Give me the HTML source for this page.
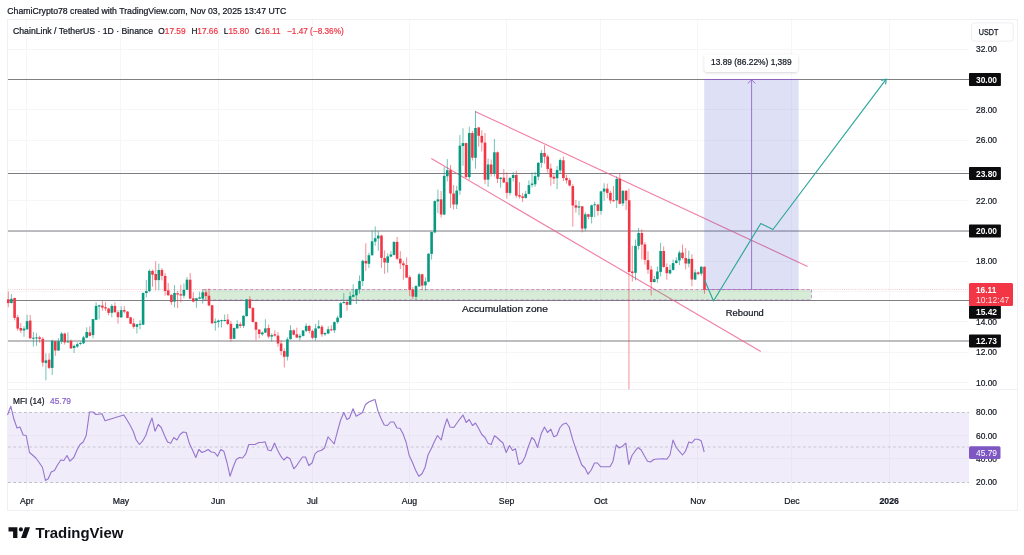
<!DOCTYPE html>
<html lang="en"><head><meta charset="utf-8"><title>ChainLink / TetherUS chart</title>
<style>html,body{margin:0;padding:0;background:#fff}body{width:1024px;height:555px;overflow:hidden}</style></head>
<body>
<svg width="1024" height="555" viewBox="0 0 1024 555" style="display:block">
<rect width="1024" height="555" fill="#fff"/>
<g stroke="#f6f6f9" stroke-width="1" shape-rendering="crispEdges">
<line x1="26.5" y1="20" x2="26.5" y2="490"/>
<line x1="120.5" y1="20" x2="120.5" y2="490"/>
<line x1="218.5" y1="20" x2="218.5" y2="490"/>
<line x1="312.5" y1="20" x2="312.5" y2="490"/>
<line x1="409.5" y1="20" x2="409.5" y2="490"/>
<line x1="506.5" y1="20" x2="506.5" y2="490"/>
<line x1="600.5" y1="20" x2="600.5" y2="490"/>
<line x1="697.5" y1="20" x2="697.5" y2="490"/>
<line x1="791.5" y1="20" x2="791.5" y2="490"/>
<line x1="889.5" y1="20" x2="889.5" y2="490"/>
<line x1="8" y1="49.5" x2="969" y2="49.5"/>
<line x1="8" y1="79.5" x2="969" y2="79.5"/>
<line x1="8" y1="109.5" x2="969" y2="109.5"/>
<line x1="8" y1="140.5" x2="969" y2="140.5"/>
<line x1="8" y1="170.5" x2="969" y2="170.5"/>
<line x1="8" y1="200.5" x2="969" y2="200.5"/>
<line x1="8" y1="231.5" x2="969" y2="231.5"/>
<line x1="8" y1="261.5" x2="969" y2="261.5"/>
<line x1="8" y1="291.5" x2="969" y2="291.5"/>
<line x1="8" y1="321.5" x2="969" y2="321.5"/>
<line x1="8" y1="352.5" x2="969" y2="352.5"/>
<line x1="8" y1="382.5" x2="969" y2="382.5"/>
</g>
<g fill="none" stroke="#f0eff3" stroke-width="1" shape-rendering="crispEdges">
<rect x="7.5" y="19.5" width="1010" height="491"/>
<line x1="8" y1="389.5" x2="1017" y2="389.5"/>
</g>
<line x1="8" y1="289.5" x2="969" y2="289.5" stroke="#f23645" stroke-width="0.7" stroke-dasharray="1 1.2" opacity="0.38"/>
<g stroke="#7e7e83" stroke-width="1.05">
<line x1="8" y1="79.5" x2="969" y2="79.5"/>
<line x1="8" y1="173.5" x2="969" y2="173.5"/>
<line x1="8" y1="231.0" x2="969" y2="231.0"/>
<line x1="8" y1="300.4" x2="969" y2="300.4"/>
<line x1="8" y1="340.9" x2="969" y2="340.9"/>
</g>
<path d="M704.2 79.5H798.6" stroke="#9c5fc4" stroke-width="1" fill="none" opacity="0.85"/>
<path d="M704.2 289.5H798.6" stroke="#9c5fc4" stroke-width="0.9" fill="none" opacity="0.6"/>
<path d="M751.6 289.5V80M747.8 83.4L751.6 79.8L755.4 83.4" fill="none" stroke="#a56ccf" stroke-width="0.9"/>
<g stroke="#ee5d8c" stroke-width="1.15" fill="none" opacity="0.78">
<line x1="475" y1="111.4" x2="807.6" y2="266.5"/>
<line x1="431.3" y1="158.6" x2="760.8" y2="351.6"/>
</g>
<rect x="704.2" y="79.5" width="94.4" height="210" fill="rgb(60,80,200)" fill-opacity="0.17"/>
<rect x="202.6" y="289.5" width="608.9" height="10.5" fill="#4caf50" fill-opacity="0.23"/>
<path d="M202.6 289.6H811.5M202.6 300H811.5M811.5 289.6V300" fill="none" stroke="#ab47bc" stroke-width="0.9" stroke-dasharray="3 2.3" opacity="0.62"/>
<line x1="8.3" y1="291.4" x2="8.3" y2="307.2" stroke="#f23645" stroke-width="0.85" opacity="0.68"/>
<rect x="7.0" y="299.3" width="2.6" height="3.8" fill="#f23645"/>
<line x1="11.4" y1="294.0" x2="11.4" y2="303.4" stroke="#089981" stroke-width="0.85" opacity="0.68"/>
<rect x="10.1" y="298.8" width="2.6" height="4.3" fill="#089981"/>
<line x1="14.6" y1="297.7" x2="14.6" y2="320.4" stroke="#f23645" stroke-width="0.85" opacity="0.68"/>
<rect x="13.3" y="298.0" width="2.6" height="19.9" fill="#f23645"/>
<line x1="17.7" y1="314.8" x2="17.7" y2="330.8" stroke="#f23645" stroke-width="0.85" opacity="0.68"/>
<rect x="16.4" y="317.3" width="2.6" height="11.3" fill="#f23645"/>
<line x1="20.8" y1="323.0" x2="20.8" y2="333.1" stroke="#f23645" stroke-width="0.85" opacity="0.68"/>
<rect x="19.5" y="328.0" width="2.6" height="2.5" fill="#f23645"/>
<line x1="24.0" y1="326.1" x2="24.0" y2="336.8" stroke="#089981" stroke-width="0.85" opacity="0.68"/>
<rect x="22.7" y="328.6" width="2.6" height="1.9" fill="#089981"/>
<line x1="27.1" y1="314.8" x2="27.1" y2="329.9" stroke="#089981" stroke-width="0.85" opacity="0.68"/>
<rect x="25.8" y="321.1" width="2.6" height="8.2" fill="#089981"/>
<line x1="30.2" y1="315.0" x2="30.2" y2="338.7" stroke="#f23645" stroke-width="0.85" opacity="0.68"/>
<rect x="28.9" y="320.6" width="2.6" height="17.7" fill="#f23645"/>
<line x1="33.4" y1="332.0" x2="33.4" y2="346.5" stroke="#089981" stroke-width="0.85" opacity="0.68"/>
<rect x="32.1" y="337.7" width="2.6" height="1.0" fill="#089981"/>
<line x1="36.5" y1="333.2" x2="36.5" y2="345.9" stroke="#089981" stroke-width="0.85" opacity="0.68"/>
<rect x="35.2" y="337.4" width="2.6" height="1.0" fill="#089981"/>
<line x1="39.6" y1="335.8" x2="39.6" y2="342.7" stroke="#f23645" stroke-width="0.85" opacity="0.68"/>
<rect x="38.3" y="337.4" width="2.6" height="1.5" fill="#f23645"/>
<line x1="42.8" y1="337.0" x2="42.8" y2="366.7" stroke="#f23645" stroke-width="0.85" opacity="0.68"/>
<rect x="41.5" y="338.9" width="2.6" height="23.7" fill="#f23645"/>
<line x1="45.9" y1="353.4" x2="45.9" y2="380.3" stroke="#089981" stroke-width="0.85" opacity="0.68"/>
<rect x="44.6" y="360.4" width="2.6" height="2.5" fill="#089981"/>
<line x1="49.1" y1="353.4" x2="49.1" y2="369.2" stroke="#f23645" stroke-width="0.85" opacity="0.68"/>
<rect x="47.8" y="359.7" width="2.6" height="8.2" fill="#f23645"/>
<line x1="52.2" y1="339.5" x2="52.2" y2="374.9" stroke="#089981" stroke-width="0.85" opacity="0.68"/>
<rect x="50.9" y="340.8" width="2.6" height="27.1" fill="#089981"/>
<line x1="55.3" y1="340.8" x2="55.3" y2="355.9" stroke="#f23645" stroke-width="0.85" opacity="0.68"/>
<rect x="54.0" y="341.2" width="2.6" height="9.3" fill="#f23645"/>
<line x1="58.5" y1="338.3" x2="58.5" y2="350.9" stroke="#089981" stroke-width="0.85" opacity="0.68"/>
<rect x="57.2" y="341.2" width="2.6" height="9.3" fill="#089981"/>
<line x1="61.6" y1="332.0" x2="61.6" y2="344.0" stroke="#089981" stroke-width="0.85" opacity="0.68"/>
<rect x="60.3" y="333.6" width="2.6" height="8.1" fill="#089981"/>
<line x1="64.7" y1="332.6" x2="64.7" y2="344.6" stroke="#f23645" stroke-width="0.85" opacity="0.68"/>
<rect x="63.4" y="333.6" width="2.6" height="8.8" fill="#f23645"/>
<line x1="67.9" y1="332.4" x2="67.9" y2="342.7" stroke="#089981" stroke-width="0.85" opacity="0.68"/>
<rect x="66.6" y="341.4" width="2.6" height="1.0" fill="#089981"/>
<line x1="71.0" y1="339.5" x2="71.0" y2="348.8" stroke="#f23645" stroke-width="0.85" opacity="0.68"/>
<rect x="69.7" y="340.8" width="2.6" height="7.6" fill="#f23645"/>
<line x1="74.1" y1="344.6" x2="74.1" y2="353.0" stroke="#089981" stroke-width="0.85" opacity="0.68"/>
<rect x="72.8" y="345.9" width="2.6" height="2.1" fill="#089981"/>
<line x1="77.3" y1="342.4" x2="77.3" y2="348.0" stroke="#089981" stroke-width="0.85" opacity="0.68"/>
<rect x="76.0" y="344.2" width="2.6" height="2.3" fill="#089981"/>
<line x1="80.4" y1="341.4" x2="80.4" y2="345.2" stroke="#089981" stroke-width="0.85" opacity="0.68"/>
<rect x="79.1" y="343.0" width="2.6" height="1.0" fill="#089981"/>
<line x1="83.5" y1="335.8" x2="83.5" y2="344.0" stroke="#089981" stroke-width="0.85" opacity="0.68"/>
<rect x="82.2" y="337.4" width="2.6" height="5.9" fill="#089981"/>
<line x1="86.7" y1="327.3" x2="86.7" y2="338.3" stroke="#089981" stroke-width="0.85" opacity="0.68"/>
<rect x="85.4" y="332.0" width="2.6" height="5.7" fill="#089981"/>
<line x1="89.8" y1="326.3" x2="89.8" y2="336.4" stroke="#f23645" stroke-width="0.85" opacity="0.68"/>
<rect x="88.5" y="332.4" width="2.6" height="3.4" fill="#f23645"/>
<line x1="93.0" y1="318.9" x2="93.0" y2="338.3" stroke="#089981" stroke-width="0.85" opacity="0.68"/>
<rect x="91.7" y="319.1" width="2.6" height="16.0" fill="#089981"/>
<line x1="96.1" y1="302.2" x2="96.1" y2="320.2" stroke="#089981" stroke-width="0.85" opacity="0.68"/>
<rect x="94.8" y="305.9" width="2.6" height="13.9" fill="#089981"/>
<line x1="99.2" y1="304.7" x2="99.2" y2="319.2" stroke="#089981" stroke-width="0.85" opacity="0.68"/>
<rect x="97.9" y="305.3" width="2.6" height="1.3" fill="#089981"/>
<line x1="102.4" y1="300.9" x2="102.4" y2="310.6" stroke="#f23645" stroke-width="0.85" opacity="0.68"/>
<rect x="101.1" y="305.6" width="2.6" height="2.0" fill="#f23645"/>
<line x1="105.5" y1="302.2" x2="105.5" y2="311.0" stroke="#f23645" stroke-width="0.85" opacity="0.68"/>
<rect x="104.2" y="307.2" width="2.6" height="1.3" fill="#f23645"/>
<line x1="108.6" y1="307.8" x2="108.6" y2="315.4" stroke="#f23645" stroke-width="0.85" opacity="0.68"/>
<rect x="107.3" y="308.5" width="2.6" height="4.4" fill="#f23645"/>
<line x1="111.8" y1="304.0" x2="111.8" y2="317.3" stroke="#089981" stroke-width="0.85" opacity="0.68"/>
<rect x="110.5" y="305.9" width="2.6" height="6.9" fill="#089981"/>
<line x1="114.9" y1="302.5" x2="114.9" y2="312.9" stroke="#f23645" stroke-width="0.85" opacity="0.68"/>
<rect x="113.6" y="305.9" width="2.6" height="6.3" fill="#f23645"/>
<line x1="118.0" y1="310.1" x2="118.0" y2="323.6" stroke="#f23645" stroke-width="0.85" opacity="0.68"/>
<rect x="116.7" y="312.2" width="2.6" height="5.0" fill="#f23645"/>
<line x1="121.2" y1="306.1" x2="121.2" y2="317.7" stroke="#089981" stroke-width="0.85" opacity="0.68"/>
<rect x="119.9" y="310.1" width="2.6" height="7.3" fill="#089981"/>
<line x1="124.3" y1="306.1" x2="124.3" y2="313.3" stroke="#f23645" stroke-width="0.85" opacity="0.68"/>
<rect x="123.0" y="310.1" width="2.6" height="1.5" fill="#f23645"/>
<line x1="127.5" y1="311.1" x2="127.5" y2="318.3" stroke="#f23645" stroke-width="0.85" opacity="0.68"/>
<rect x="126.2" y="311.6" width="2.6" height="6.3" fill="#f23645"/>
<line x1="130.6" y1="316.7" x2="130.6" y2="324.3" stroke="#f23645" stroke-width="0.85" opacity="0.68"/>
<rect x="129.3" y="317.4" width="2.6" height="6.3" fill="#f23645"/>
<line x1="133.7" y1="318.3" x2="133.7" y2="328.8" stroke="#f23645" stroke-width="0.85" opacity="0.68"/>
<rect x="132.4" y="323.4" width="2.6" height="3.4" fill="#f23645"/>
<line x1="136.9" y1="323.8" x2="136.9" y2="333.5" stroke="#089981" stroke-width="0.85" opacity="0.68"/>
<rect x="135.6" y="324.3" width="2.6" height="2.5" fill="#089981"/>
<line x1="140.0" y1="320.2" x2="140.0" y2="329.3" stroke="#089981" stroke-width="0.85" opacity="0.68"/>
<rect x="138.7" y="323.8" width="2.6" height="1.0" fill="#089981"/>
<line x1="143.1" y1="292.3" x2="143.1" y2="325.1" stroke="#089981" stroke-width="0.85" opacity="0.68"/>
<rect x="141.8" y="293.0" width="2.6" height="31.7" fill="#089981"/>
<line x1="146.3" y1="280.1" x2="146.3" y2="297.4" stroke="#089981" stroke-width="0.85" opacity="0.68"/>
<rect x="145.0" y="291.1" width="2.6" height="1.9" fill="#089981"/>
<line x1="149.4" y1="269.3" x2="149.4" y2="292.3" stroke="#089981" stroke-width="0.85" opacity="0.68"/>
<rect x="148.1" y="270.9" width="2.6" height="20.2" fill="#089981"/>
<line x1="152.5" y1="269.6" x2="152.5" y2="286.7" stroke="#f23645" stroke-width="0.85" opacity="0.68"/>
<rect x="151.2" y="270.9" width="2.6" height="3.8" fill="#f23645"/>
<line x1="155.7" y1="261.2" x2="155.7" y2="290.4" stroke="#f23645" stroke-width="0.85" opacity="0.68"/>
<rect x="154.4" y="274.0" width="2.6" height="6.1" fill="#f23645"/>
<line x1="158.8" y1="263.7" x2="158.8" y2="290.4" stroke="#089981" stroke-width="0.85" opacity="0.68"/>
<rect x="157.5" y="270.0" width="2.6" height="10.1" fill="#089981"/>
<line x1="161.9" y1="268.0" x2="161.9" y2="280.4" stroke="#f23645" stroke-width="0.85" opacity="0.68"/>
<rect x="160.6" y="270.0" width="2.6" height="5.9" fill="#f23645"/>
<line x1="165.1" y1="273.0" x2="165.1" y2="295.5" stroke="#f23645" stroke-width="0.85" opacity="0.68"/>
<rect x="163.8" y="275.9" width="2.6" height="15.1" fill="#f23645"/>
<line x1="168.2" y1="283.1" x2="168.2" y2="296.1" stroke="#f23645" stroke-width="0.85" opacity="0.68"/>
<rect x="166.9" y="290.4" width="2.6" height="4.8" fill="#f23645"/>
<line x1="171.4" y1="294.2" x2="171.4" y2="304.9" stroke="#f23645" stroke-width="0.85" opacity="0.68"/>
<rect x="170.1" y="294.9" width="2.6" height="7.2" fill="#f23645"/>
<line x1="174.5" y1="285.1" x2="174.5" y2="307.5" stroke="#089981" stroke-width="0.85" opacity="0.68"/>
<rect x="173.2" y="293.0" width="2.6" height="8.6" fill="#089981"/>
<line x1="177.6" y1="291.1" x2="177.6" y2="308.1" stroke="#f23645" stroke-width="0.85" opacity="0.68"/>
<rect x="176.3" y="293.2" width="2.6" height="1.3" fill="#f23645"/>
<line x1="180.8" y1="284.8" x2="180.8" y2="302.4" stroke="#f23645" stroke-width="0.85" opacity="0.68"/>
<rect x="179.5" y="294.2" width="2.6" height="1.3" fill="#f23645"/>
<line x1="183.9" y1="283.5" x2="183.9" y2="298.3" stroke="#089981" stroke-width="0.85" opacity="0.68"/>
<rect x="182.6" y="289.8" width="2.6" height="5.9" fill="#089981"/>
<line x1="187.0" y1="277.2" x2="187.0" y2="290.2" stroke="#089981" stroke-width="0.85" opacity="0.68"/>
<rect x="185.7" y="279.7" width="2.6" height="10.1" fill="#089981"/>
<line x1="190.2" y1="273.0" x2="190.2" y2="299.3" stroke="#f23645" stroke-width="0.85" opacity="0.68"/>
<rect x="188.9" y="279.7" width="2.6" height="18.9" fill="#f23645"/>
<line x1="193.3" y1="292.3" x2="193.3" y2="302.4" stroke="#f23645" stroke-width="0.85" opacity="0.68"/>
<rect x="192.0" y="298.3" width="2.6" height="3.3" fill="#f23645"/>
<line x1="196.4" y1="297.8" x2="196.4" y2="307.8" stroke="#089981" stroke-width="0.85" opacity="0.68"/>
<rect x="195.1" y="298.3" width="2.6" height="2.5" fill="#089981"/>
<line x1="199.6" y1="291.7" x2="199.6" y2="299.3" stroke="#089981" stroke-width="0.85" opacity="0.68"/>
<rect x="198.3" y="297.4" width="2.6" height="1.3" fill="#089981"/>
<line x1="202.7" y1="289.4" x2="202.7" y2="303.7" stroke="#089981" stroke-width="0.85" opacity="0.68"/>
<rect x="201.4" y="292.3" width="2.6" height="6.3" fill="#089981"/>
<line x1="205.9" y1="288.9" x2="205.9" y2="300.5" stroke="#f23645" stroke-width="0.85" opacity="0.68"/>
<rect x="204.6" y="292.3" width="2.6" height="3.8" fill="#f23645"/>
<line x1="209.0" y1="288.5" x2="209.0" y2="306.2" stroke="#f23645" stroke-width="0.85" opacity="0.68"/>
<rect x="207.7" y="295.7" width="2.6" height="9.8" fill="#f23645"/>
<line x1="212.1" y1="304.9" x2="212.1" y2="324.2" stroke="#f23645" stroke-width="0.85" opacity="0.68"/>
<rect x="210.8" y="305.3" width="2.6" height="18.0" fill="#f23645"/>
<line x1="215.3" y1="318.3" x2="215.3" y2="330.6" stroke="#089981" stroke-width="0.85" opacity="0.68"/>
<rect x="214.0" y="321.5" width="2.6" height="1.3" fill="#089981"/>
<line x1="218.4" y1="319.6" x2="218.4" y2="327.5" stroke="#089981" stroke-width="0.85" opacity="0.68"/>
<rect x="217.1" y="320.5" width="2.6" height="1.6" fill="#089981"/>
<line x1="221.5" y1="319.6" x2="221.5" y2="327.5" stroke="#089981" stroke-width="0.85" opacity="0.68"/>
<rect x="220.2" y="320.2" width="2.6" height="1.0" fill="#089981"/>
<line x1="224.7" y1="314.5" x2="224.7" y2="321.5" stroke="#089981" stroke-width="0.85" opacity="0.68"/>
<rect x="223.4" y="320.0" width="2.6" height="1.0" fill="#089981"/>
<line x1="227.8" y1="314.2" x2="227.8" y2="325.3" stroke="#f23645" stroke-width="0.85" opacity="0.68"/>
<rect x="226.5" y="319.6" width="2.6" height="4.4" fill="#f23645"/>
<line x1="230.9" y1="320.9" x2="230.9" y2="341.7" stroke="#f23645" stroke-width="0.85" opacity="0.68"/>
<rect x="229.6" y="323.8" width="2.6" height="15.1" fill="#f23645"/>
<line x1="234.1" y1="327.5" x2="234.1" y2="339.1" stroke="#089981" stroke-width="0.85" opacity="0.68"/>
<rect x="232.8" y="328.0" width="2.6" height="10.8" fill="#089981"/>
<line x1="237.2" y1="320.2" x2="237.2" y2="328.8" stroke="#089981" stroke-width="0.85" opacity="0.68"/>
<rect x="235.9" y="324.0" width="2.6" height="4.4" fill="#089981"/>
<line x1="240.3" y1="322.1" x2="240.3" y2="328.0" stroke="#f23645" stroke-width="0.85" opacity="0.68"/>
<rect x="239.0" y="324.3" width="2.6" height="1.6" fill="#f23645"/>
<line x1="243.5" y1="315.2" x2="243.5" y2="328.0" stroke="#089981" stroke-width="0.85" opacity="0.68"/>
<rect x="242.2" y="315.8" width="2.6" height="10.1" fill="#089981"/>
<line x1="246.6" y1="298.8" x2="246.6" y2="316.4" stroke="#089981" stroke-width="0.85" opacity="0.68"/>
<rect x="245.3" y="299.4" width="2.6" height="16.8" fill="#089981"/>
<line x1="249.8" y1="296.2" x2="249.8" y2="308.8" stroke="#f23645" stroke-width="0.85" opacity="0.68"/>
<rect x="248.5" y="299.4" width="2.6" height="8.8" fill="#f23645"/>
<line x1="252.9" y1="307.6" x2="252.9" y2="322.7" stroke="#f23645" stroke-width="0.85" opacity="0.68"/>
<rect x="251.6" y="307.8" width="2.6" height="14.2" fill="#f23645"/>
<line x1="256.0" y1="321.4" x2="256.0" y2="340.1" stroke="#f23645" stroke-width="0.85" opacity="0.68"/>
<rect x="254.7" y="322.1" width="2.6" height="7.6" fill="#f23645"/>
<line x1="259.2" y1="329.0" x2="259.2" y2="338.5" stroke="#f23645" stroke-width="0.85" opacity="0.68"/>
<rect x="257.9" y="329.6" width="2.6" height="4.4" fill="#f23645"/>
<line x1="262.3" y1="331.5" x2="262.3" y2="335.9" stroke="#089981" stroke-width="0.85" opacity="0.68"/>
<rect x="261.0" y="332.5" width="2.6" height="1.8" fill="#089981"/>
<line x1="265.4" y1="319.2" x2="265.4" y2="333.0" stroke="#089981" stroke-width="0.85" opacity="0.68"/>
<rect x="264.1" y="328.4" width="2.6" height="4.2" fill="#089981"/>
<line x1="268.6" y1="324.6" x2="268.6" y2="338.5" stroke="#f23645" stroke-width="0.85" opacity="0.68"/>
<rect x="267.3" y="328.0" width="2.6" height="8.6" fill="#f23645"/>
<line x1="271.7" y1="333.4" x2="271.7" y2="341.6" stroke="#089981" stroke-width="0.85" opacity="0.68"/>
<rect x="270.4" y="335.1" width="2.6" height="1.5" fill="#089981"/>
<line x1="274.8" y1="330.3" x2="274.8" y2="336.6" stroke="#f23645" stroke-width="0.85" opacity="0.68"/>
<rect x="273.5" y="334.3" width="2.6" height="1.3" fill="#f23645"/>
<line x1="278.0" y1="332.2" x2="278.0" y2="346.7" stroke="#f23645" stroke-width="0.85" opacity="0.68"/>
<rect x="276.7" y="335.6" width="2.6" height="7.9" fill="#f23645"/>
<line x1="281.1" y1="340.4" x2="281.1" y2="355.5" stroke="#f23645" stroke-width="0.85" opacity="0.68"/>
<rect x="279.8" y="343.5" width="2.6" height="7.6" fill="#f23645"/>
<line x1="284.3" y1="348.5" x2="284.3" y2="367.5" stroke="#f23645" stroke-width="0.85" opacity="0.68"/>
<rect x="283.0" y="351.1" width="2.6" height="5.7" fill="#f23645"/>
<line x1="287.4" y1="337.2" x2="287.4" y2="360.5" stroke="#089981" stroke-width="0.85" opacity="0.68"/>
<rect x="286.1" y="339.3" width="2.6" height="17.4" fill="#089981"/>
<line x1="290.5" y1="325.2" x2="290.5" y2="339.7" stroke="#089981" stroke-width="0.85" opacity="0.68"/>
<rect x="289.2" y="330.3" width="2.6" height="8.8" fill="#089981"/>
<line x1="293.7" y1="329.3" x2="293.7" y2="335.3" stroke="#f23645" stroke-width="0.85" opacity="0.68"/>
<rect x="292.4" y="330.3" width="2.6" height="4.4" fill="#f23645"/>
<line x1="296.8" y1="327.7" x2="296.8" y2="338.1" stroke="#f23645" stroke-width="0.85" opacity="0.68"/>
<rect x="295.5" y="334.3" width="2.6" height="3.3" fill="#f23645"/>
<line x1="299.9" y1="333.8" x2="299.9" y2="340.6" stroke="#089981" stroke-width="0.85" opacity="0.68"/>
<rect x="298.6" y="335.9" width="2.6" height="1.6" fill="#089981"/>
<line x1="303.1" y1="330.0" x2="303.1" y2="336.6" stroke="#089981" stroke-width="0.85" opacity="0.68"/>
<rect x="301.8" y="330.5" width="2.6" height="5.4" fill="#089981"/>
<line x1="306.2" y1="323.3" x2="306.2" y2="332.2" stroke="#089981" stroke-width="0.85" opacity="0.68"/>
<rect x="304.9" y="325.9" width="2.6" height="5.0" fill="#089981"/>
<line x1="309.3" y1="325.2" x2="309.3" y2="333.4" stroke="#f23645" stroke-width="0.85" opacity="0.68"/>
<rect x="308.0" y="325.9" width="2.6" height="5.0" fill="#f23645"/>
<line x1="312.5" y1="329.6" x2="312.5" y2="339.3" stroke="#f23645" stroke-width="0.85" opacity="0.68"/>
<rect x="311.2" y="330.9" width="2.6" height="6.9" fill="#f23645"/>
<line x1="315.6" y1="324.0" x2="315.6" y2="340.6" stroke="#089981" stroke-width="0.85" opacity="0.68"/>
<rect x="314.3" y="328.4" width="2.6" height="9.5" fill="#089981"/>
<line x1="318.7" y1="320.2" x2="318.7" y2="329.0" stroke="#089981" stroke-width="0.85" opacity="0.68"/>
<rect x="317.4" y="326.2" width="2.6" height="2.1" fill="#089981"/>
<line x1="321.9" y1="325.0" x2="321.9" y2="336.8" stroke="#f23645" stroke-width="0.85" opacity="0.68"/>
<rect x="320.6" y="326.7" width="2.6" height="7.6" fill="#f23645"/>
<line x1="325.0" y1="332.2" x2="325.0" y2="335.9" stroke="#089981" stroke-width="0.85" opacity="0.68"/>
<rect x="323.7" y="333.0" width="2.6" height="1.3" fill="#089981"/>
<line x1="328.2" y1="326.2" x2="328.2" y2="334.0" stroke="#089981" stroke-width="0.85" opacity="0.68"/>
<rect x="326.9" y="329.3" width="2.6" height="4.2" fill="#089981"/>
<line x1="331.3" y1="325.2" x2="331.3" y2="331.3" stroke="#f23645" stroke-width="0.85" opacity="0.68"/>
<rect x="330.0" y="329.3" width="2.6" height="1.0" fill="#f23645"/>
<line x1="334.4" y1="321.4" x2="334.4" y2="333.0" stroke="#089981" stroke-width="0.85" opacity="0.68"/>
<rect x="333.1" y="322.1" width="2.6" height="8.2" fill="#089981"/>
<line x1="337.6" y1="315.8" x2="337.6" y2="323.7" stroke="#089981" stroke-width="0.85" opacity="0.68"/>
<rect x="336.3" y="317.7" width="2.6" height="4.4" fill="#089981"/>
<line x1="340.7" y1="301.9" x2="340.7" y2="318.3" stroke="#089981" stroke-width="0.85" opacity="0.68"/>
<rect x="339.4" y="303.2" width="2.6" height="14.5" fill="#089981"/>
<line x1="343.8" y1="293.1" x2="343.8" y2="303.8" stroke="#089981" stroke-width="0.85" opacity="0.68"/>
<rect x="342.5" y="302.0" width="2.6" height="1.0" fill="#089981"/>
<line x1="347.0" y1="301.3" x2="347.0" y2="310.7" stroke="#f23645" stroke-width="0.85" opacity="0.68"/>
<rect x="345.7" y="301.9" width="2.6" height="2.9" fill="#f23645"/>
<line x1="350.1" y1="291.8" x2="350.1" y2="305.0" stroke="#089981" stroke-width="0.85" opacity="0.68"/>
<rect x="348.8" y="296.2" width="2.6" height="8.6" fill="#089981"/>
<line x1="353.2" y1="284.2" x2="353.2" y2="297.4" stroke="#089981" stroke-width="0.85" opacity="0.68"/>
<rect x="351.9" y="294.9" width="2.6" height="1.9" fill="#089981"/>
<line x1="356.4" y1="288.6" x2="356.4" y2="304.1" stroke="#089981" stroke-width="0.85" opacity="0.68"/>
<rect x="355.1" y="289.2" width="2.6" height="6.1" fill="#089981"/>
<line x1="359.5" y1="275.4" x2="359.5" y2="293.6" stroke="#089981" stroke-width="0.85" opacity="0.68"/>
<rect x="358.2" y="281.0" width="2.6" height="8.4" fill="#089981"/>
<line x1="362.7" y1="259.6" x2="362.7" y2="286.1" stroke="#089981" stroke-width="0.85" opacity="0.68"/>
<rect x="361.4" y="260.9" width="2.6" height="20.2" fill="#089981"/>
<line x1="365.8" y1="243.2" x2="365.8" y2="270.9" stroke="#f23645" stroke-width="0.85" opacity="0.68"/>
<rect x="364.5" y="260.9" width="2.6" height="2.5" fill="#f23645"/>
<line x1="368.9" y1="252.7" x2="368.9" y2="268.0" stroke="#089981" stroke-width="0.85" opacity="0.68"/>
<rect x="367.6" y="255.2" width="2.6" height="8.6" fill="#089981"/>
<line x1="372.1" y1="230.5" x2="372.1" y2="255.8" stroke="#089981" stroke-width="0.85" opacity="0.68"/>
<rect x="370.8" y="241.3" width="2.6" height="13.9" fill="#089981"/>
<line x1="375.2" y1="226.4" x2="375.2" y2="245.7" stroke="#089981" stroke-width="0.85" opacity="0.68"/>
<rect x="373.9" y="238.2" width="2.6" height="3.4" fill="#089981"/>
<line x1="378.3" y1="231.1" x2="378.3" y2="250.8" stroke="#089981" stroke-width="0.85" opacity="0.68"/>
<rect x="377.0" y="235.6" width="2.6" height="2.9" fill="#089981"/>
<line x1="381.5" y1="234.7" x2="381.5" y2="267.8" stroke="#f23645" stroke-width="0.85" opacity="0.68"/>
<rect x="380.2" y="235.6" width="2.6" height="22.3" fill="#f23645"/>
<line x1="384.6" y1="250.4" x2="384.6" y2="273.8" stroke="#f23645" stroke-width="0.85" opacity="0.68"/>
<rect x="383.3" y="258.0" width="2.6" height="4.5" fill="#f23645"/>
<line x1="387.7" y1="253.3" x2="387.7" y2="272.6" stroke="#089981" stroke-width="0.85" opacity="0.68"/>
<rect x="386.4" y="256.4" width="2.6" height="6.3" fill="#089981"/>
<line x1="390.9" y1="251.1" x2="390.9" y2="257.4" stroke="#089981" stroke-width="0.85" opacity="0.68"/>
<rect x="389.6" y="254.5" width="2.6" height="2.1" fill="#089981"/>
<line x1="394.0" y1="241.3" x2="394.0" y2="255.4" stroke="#089981" stroke-width="0.85" opacity="0.68"/>
<rect x="392.7" y="241.9" width="2.6" height="13.0" fill="#089981"/>
<line x1="397.1" y1="236.9" x2="397.1" y2="260.2" stroke="#f23645" stroke-width="0.85" opacity="0.68"/>
<rect x="395.8" y="241.9" width="2.6" height="16.8" fill="#f23645"/>
<line x1="400.3" y1="251.1" x2="400.3" y2="269.0" stroke="#f23645" stroke-width="0.85" opacity="0.68"/>
<rect x="399.0" y="258.7" width="2.6" height="4.7" fill="#f23645"/>
<line x1="403.4" y1="260.9" x2="403.4" y2="279.8" stroke="#f23645" stroke-width="0.85" opacity="0.68"/>
<rect x="402.1" y="263.4" width="2.6" height="1.9" fill="#f23645"/>
<line x1="406.6" y1="257.4" x2="406.6" y2="278.1" stroke="#f23645" stroke-width="0.85" opacity="0.68"/>
<rect x="405.3" y="265.0" width="2.6" height="12.6" fill="#f23645"/>
<line x1="409.7" y1="275.4" x2="409.7" y2="296.2" stroke="#f23645" stroke-width="0.85" opacity="0.68"/>
<rect x="408.4" y="277.2" width="2.6" height="12.6" fill="#f23645"/>
<line x1="412.8" y1="287.0" x2="412.8" y2="299.3" stroke="#f23645" stroke-width="0.85" opacity="0.68"/>
<rect x="411.5" y="289.5" width="2.6" height="7.1" fill="#f23645"/>
<line x1="416.0" y1="285.2" x2="416.0" y2="299.9" stroke="#089981" stroke-width="0.85" opacity="0.68"/>
<rect x="414.7" y="286.1" width="2.6" height="10.7" fill="#089981"/>
<line x1="419.1" y1="272.8" x2="419.1" y2="287.0" stroke="#089981" stroke-width="0.85" opacity="0.68"/>
<rect x="417.8" y="274.3" width="2.6" height="12.1" fill="#089981"/>
<line x1="422.2" y1="273.8" x2="422.2" y2="289.9" stroke="#f23645" stroke-width="0.85" opacity="0.68"/>
<rect x="420.9" y="274.3" width="2.6" height="11.3" fill="#f23645"/>
<line x1="425.4" y1="277.2" x2="425.4" y2="290.5" stroke="#089981" stroke-width="0.85" opacity="0.68"/>
<rect x="424.1" y="281.4" width="2.6" height="4.0" fill="#089981"/>
<line x1="428.5" y1="253.3" x2="428.5" y2="282.3" stroke="#089981" stroke-width="0.85" opacity="0.68"/>
<rect x="427.2" y="253.7" width="2.6" height="28.0" fill="#089981"/>
<line x1="431.6" y1="231.7" x2="431.6" y2="259.6" stroke="#089981" stroke-width="0.85" opacity="0.68"/>
<rect x="430.3" y="232.0" width="2.6" height="21.9" fill="#089981"/>
<line x1="434.8" y1="200.4" x2="434.8" y2="233.2" stroke="#089981" stroke-width="0.85" opacity="0.68"/>
<rect x="433.5" y="201.1" width="2.6" height="31.3" fill="#089981"/>
<line x1="437.9" y1="189.7" x2="437.9" y2="213.1" stroke="#089981" stroke-width="0.85" opacity="0.68"/>
<rect x="436.6" y="199.4" width="2.6" height="2.0" fill="#089981"/>
<line x1="441.1" y1="191.0" x2="441.1" y2="217.5" stroke="#f23645" stroke-width="0.85" opacity="0.68"/>
<rect x="439.8" y="199.4" width="2.6" height="15.1" fill="#f23645"/>
<line x1="444.2" y1="167.0" x2="444.2" y2="214.9" stroke="#089981" stroke-width="0.85" opacity="0.68"/>
<rect x="442.9" y="175.9" width="2.6" height="38.7" fill="#089981"/>
<line x1="447.3" y1="159.1" x2="447.3" y2="181.5" stroke="#089981" stroke-width="0.85" opacity="0.68"/>
<rect x="446.0" y="170.2" width="2.6" height="6.1" fill="#089981"/>
<line x1="450.5" y1="165.1" x2="450.5" y2="207.8" stroke="#f23645" stroke-width="0.85" opacity="0.68"/>
<rect x="449.2" y="170.2" width="2.6" height="23.3" fill="#f23645"/>
<line x1="453.6" y1="185.1" x2="453.6" y2="209.5" stroke="#f23645" stroke-width="0.85" opacity="0.68"/>
<rect x="452.3" y="193.5" width="2.6" height="11.0" fill="#f23645"/>
<line x1="456.7" y1="185.9" x2="456.7" y2="209.0" stroke="#089981" stroke-width="0.85" opacity="0.68"/>
<rect x="455.4" y="190.6" width="2.6" height="13.9" fill="#089981"/>
<line x1="459.9" y1="135.0" x2="459.9" y2="194.8" stroke="#089981" stroke-width="0.85" opacity="0.68"/>
<rect x="458.6" y="145.6" width="2.6" height="45.0" fill="#089981"/>
<line x1="463.0" y1="128.3" x2="463.0" y2="165.8" stroke="#089981" stroke-width="0.85" opacity="0.68"/>
<rect x="461.7" y="143.1" width="2.6" height="2.9" fill="#089981"/>
<line x1="466.1" y1="142.6" x2="466.1" y2="178.0" stroke="#f23645" stroke-width="0.85" opacity="0.68"/>
<rect x="464.8" y="143.1" width="2.6" height="34.0" fill="#f23645"/>
<line x1="469.3" y1="126.7" x2="469.3" y2="179.7" stroke="#089981" stroke-width="0.85" opacity="0.68"/>
<rect x="468.0" y="133.0" width="2.6" height="44.1" fill="#089981"/>
<line x1="472.4" y1="130.9" x2="472.4" y2="160.5" stroke="#f23645" stroke-width="0.85" opacity="0.68"/>
<rect x="471.1" y="133.0" width="2.6" height="24.7" fill="#f23645"/>
<line x1="475.5" y1="111.1" x2="475.5" y2="168.7" stroke="#089981" stroke-width="0.85" opacity="0.68"/>
<rect x="474.2" y="128.0" width="2.6" height="29.8" fill="#089981"/>
<line x1="478.7" y1="127.1" x2="478.7" y2="146.6" stroke="#f23645" stroke-width="0.85" opacity="0.68"/>
<rect x="477.4" y="127.4" width="2.6" height="8.4" fill="#f23645"/>
<line x1="481.8" y1="130.2" x2="481.8" y2="151.4" stroke="#f23645" stroke-width="0.85" opacity="0.68"/>
<rect x="480.5" y="135.9" width="2.6" height="6.7" fill="#f23645"/>
<line x1="485.0" y1="133.0" x2="485.0" y2="184.1" stroke="#f23645" stroke-width="0.85" opacity="0.68"/>
<rect x="483.7" y="142.6" width="2.6" height="37.1" fill="#f23645"/>
<line x1="488.1" y1="158.6" x2="488.1" y2="186.8" stroke="#089981" stroke-width="0.85" opacity="0.68"/>
<rect x="486.8" y="164.5" width="2.6" height="15.1" fill="#089981"/>
<line x1="491.2" y1="159.5" x2="491.2" y2="176.5" stroke="#f23645" stroke-width="0.85" opacity="0.68"/>
<rect x="489.9" y="164.5" width="2.6" height="9.2" fill="#f23645"/>
<line x1="494.4" y1="139.0" x2="494.4" y2="176.5" stroke="#089981" stroke-width="0.85" opacity="0.68"/>
<rect x="493.1" y="152.3" width="2.6" height="21.4" fill="#089981"/>
<line x1="497.5" y1="151.4" x2="497.5" y2="183.1" stroke="#f23645" stroke-width="0.85" opacity="0.68"/>
<rect x="496.2" y="152.3" width="2.6" height="26.5" fill="#f23645"/>
<line x1="500.6" y1="177.1" x2="500.6" y2="187.6" stroke="#089981" stroke-width="0.85" opacity="0.68"/>
<rect x="499.3" y="177.7" width="2.6" height="1.3" fill="#089981"/>
<line x1="503.8" y1="169.2" x2="503.8" y2="183.0" stroke="#f23645" stroke-width="0.85" opacity="0.68"/>
<rect x="502.5" y="177.7" width="2.6" height="4.8" fill="#f23645"/>
<line x1="506.9" y1="172.4" x2="506.9" y2="198.5" stroke="#f23645" stroke-width="0.85" opacity="0.68"/>
<rect x="505.6" y="182.2" width="2.6" height="10.7" fill="#f23645"/>
<line x1="510.0" y1="176.7" x2="510.0" y2="195.4" stroke="#089981" stroke-width="0.85" opacity="0.68"/>
<rect x="508.7" y="178.0" width="2.6" height="14.9" fill="#089981"/>
<line x1="513.2" y1="172.1" x2="513.2" y2="181.5" stroke="#089981" stroke-width="0.85" opacity="0.68"/>
<rect x="511.9" y="175.0" width="2.6" height="3.0" fill="#089981"/>
<line x1="516.3" y1="170.8" x2="516.3" y2="197.7" stroke="#f23645" stroke-width="0.85" opacity="0.68"/>
<rect x="515.0" y="175.0" width="2.6" height="20.7" fill="#f23645"/>
<line x1="519.5" y1="182.2" x2="519.5" y2="198.5" stroke="#f23645" stroke-width="0.85" opacity="0.68"/>
<rect x="518.2" y="195.1" width="2.6" height="1.5" fill="#f23645"/>
<line x1="522.6" y1="192.9" x2="522.6" y2="202.0" stroke="#f23645" stroke-width="0.85" opacity="0.68"/>
<rect x="521.3" y="196.4" width="2.6" height="1.5" fill="#f23645"/>
<line x1="525.7" y1="191.0" x2="525.7" y2="198.5" stroke="#089981" stroke-width="0.85" opacity="0.68"/>
<rect x="524.4" y="193.9" width="2.6" height="4.0" fill="#089981"/>
<line x1="528.9" y1="180.3" x2="528.9" y2="194.4" stroke="#089981" stroke-width="0.85" opacity="0.68"/>
<rect x="527.6" y="185.1" width="2.6" height="8.8" fill="#089981"/>
<line x1="532.0" y1="172.3" x2="532.0" y2="187.4" stroke="#089981" stroke-width="0.85" opacity="0.68"/>
<rect x="530.7" y="183.6" width="2.6" height="1.3" fill="#089981"/>
<line x1="535.1" y1="171.7" x2="535.1" y2="186.8" stroke="#089981" stroke-width="0.85" opacity="0.68"/>
<rect x="533.8" y="176.1" width="2.6" height="8.2" fill="#089981"/>
<line x1="538.3" y1="162.2" x2="538.3" y2="180.2" stroke="#089981" stroke-width="0.85" opacity="0.68"/>
<rect x="537.0" y="162.8" width="2.6" height="13.9" fill="#089981"/>
<line x1="541.4" y1="150.0" x2="541.4" y2="167.6" stroke="#089981" stroke-width="0.85" opacity="0.68"/>
<rect x="540.1" y="153.0" width="2.6" height="9.8" fill="#089981"/>
<line x1="544.5" y1="145.2" x2="544.5" y2="163.5" stroke="#f23645" stroke-width="0.85" opacity="0.68"/>
<rect x="543.2" y="153.0" width="2.6" height="3.8" fill="#f23645"/>
<line x1="547.7" y1="154.6" x2="547.7" y2="172.7" stroke="#f23645" stroke-width="0.85" opacity="0.68"/>
<rect x="546.4" y="156.5" width="2.6" height="12.4" fill="#f23645"/>
<line x1="550.8" y1="163.5" x2="550.8" y2="185.8" stroke="#f23645" stroke-width="0.85" opacity="0.68"/>
<rect x="549.5" y="168.5" width="2.6" height="8.8" fill="#f23645"/>
<line x1="553.9" y1="173.5" x2="553.9" y2="184.0" stroke="#f23645" stroke-width="0.85" opacity="0.68"/>
<rect x="552.6" y="176.7" width="2.6" height="1.9" fill="#f23645"/>
<line x1="557.1" y1="166.0" x2="557.1" y2="189.1" stroke="#089981" stroke-width="0.85" opacity="0.68"/>
<rect x="555.8" y="170.1" width="2.6" height="8.1" fill="#089981"/>
<line x1="560.2" y1="158.4" x2="560.2" y2="173.9" stroke="#089981" stroke-width="0.85" opacity="0.68"/>
<rect x="558.9" y="160.1" width="2.6" height="10.3" fill="#089981"/>
<line x1="563.4" y1="156.5" x2="563.4" y2="181.1" stroke="#f23645" stroke-width="0.85" opacity="0.68"/>
<rect x="562.1" y="160.3" width="2.6" height="17.7" fill="#f23645"/>
<line x1="566.5" y1="174.8" x2="566.5" y2="183.6" stroke="#f23645" stroke-width="0.85" opacity="0.68"/>
<rect x="565.2" y="178.0" width="2.6" height="2.3" fill="#f23645"/>
<line x1="569.6" y1="178.0" x2="569.6" y2="186.5" stroke="#f23645" stroke-width="0.85" opacity="0.68"/>
<rect x="568.3" y="180.2" width="2.6" height="5.3" fill="#f23645"/>
<line x1="572.8" y1="184.1" x2="572.8" y2="226.7" stroke="#f23645" stroke-width="0.85" opacity="0.68"/>
<rect x="571.5" y="186.1" width="2.6" height="19.4" fill="#f23645"/>
<line x1="575.9" y1="200.0" x2="575.9" y2="212.6" stroke="#f23645" stroke-width="0.85" opacity="0.68"/>
<rect x="574.6" y="205.3" width="2.6" height="2.3" fill="#f23645"/>
<line x1="579.0" y1="200.9" x2="579.0" y2="215.4" stroke="#089981" stroke-width="0.85" opacity="0.68"/>
<rect x="577.7" y="206.3" width="2.6" height="1.3" fill="#089981"/>
<line x1="582.2" y1="205.9" x2="582.2" y2="232.4" stroke="#f23645" stroke-width="0.85" opacity="0.68"/>
<rect x="580.9" y="206.3" width="2.6" height="22.3" fill="#f23645"/>
<line x1="585.3" y1="212.2" x2="585.3" y2="231.1" stroke="#089981" stroke-width="0.85" opacity="0.68"/>
<rect x="584.0" y="214.3" width="2.6" height="14.2" fill="#089981"/>
<line x1="588.4" y1="213.8" x2="588.4" y2="219.4" stroke="#f23645" stroke-width="0.85" opacity="0.68"/>
<rect x="587.1" y="214.3" width="2.6" height="2.5" fill="#f23645"/>
<line x1="591.6" y1="204.6" x2="591.6" y2="223.5" stroke="#089981" stroke-width="0.85" opacity="0.68"/>
<rect x="590.3" y="205.3" width="2.6" height="11.6" fill="#089981"/>
<line x1="594.7" y1="201.7" x2="594.7" y2="217.2" stroke="#089981" stroke-width="0.85" opacity="0.68"/>
<rect x="593.4" y="204.3" width="2.6" height="1.0" fill="#089981"/>
<line x1="597.9" y1="203.8" x2="597.9" y2="215.6" stroke="#f23645" stroke-width="0.85" opacity="0.68"/>
<rect x="596.6" y="204.6" width="2.6" height="6.3" fill="#f23645"/>
<line x1="601.0" y1="190.8" x2="601.0" y2="214.7" stroke="#089981" stroke-width="0.85" opacity="0.68"/>
<rect x="599.7" y="191.4" width="2.6" height="19.5" fill="#089981"/>
<line x1="604.1" y1="183.2" x2="604.1" y2="200.9" stroke="#089981" stroke-width="0.85" opacity="0.68"/>
<rect x="602.8" y="188.6" width="2.6" height="3.0" fill="#089981"/>
<line x1="607.3" y1="183.6" x2="607.3" y2="198.3" stroke="#f23645" stroke-width="0.85" opacity="0.68"/>
<rect x="606.0" y="188.6" width="2.6" height="4.3" fill="#f23645"/>
<line x1="610.4" y1="190.8" x2="610.4" y2="203.8" stroke="#f23645" stroke-width="0.85" opacity="0.68"/>
<rect x="609.1" y="192.9" width="2.6" height="7.6" fill="#f23645"/>
<line x1="613.5" y1="186.1" x2="613.5" y2="201.7" stroke="#f23645" stroke-width="0.85" opacity="0.68"/>
<rect x="612.2" y="200.2" width="2.6" height="1.0" fill="#f23645"/>
<line x1="616.7" y1="176.3" x2="616.7" y2="208.0" stroke="#089981" stroke-width="0.85" opacity="0.68"/>
<rect x="615.4" y="179.0" width="2.6" height="21.4" fill="#089981"/>
<line x1="619.8" y1="173.5" x2="619.8" y2="204.3" stroke="#f23645" stroke-width="0.85" opacity="0.68"/>
<rect x="618.5" y="178.8" width="2.6" height="25.0" fill="#f23645"/>
<line x1="622.9" y1="190.1" x2="622.9" y2="205.9" stroke="#089981" stroke-width="0.85" opacity="0.68"/>
<rect x="621.6" y="190.8" width="2.6" height="12.6" fill="#089981"/>
<line x1="626.1" y1="190.1" x2="626.1" y2="210.1" stroke="#f23645" stroke-width="0.85" opacity="0.68"/>
<rect x="624.8" y="190.8" width="2.6" height="9.7" fill="#f23645"/>
<line x1="628.9" y1="188.6" x2="628.9" y2="389.2" stroke="#f23645" stroke-width="1.5" opacity="0.36"/>
<rect x="627.9" y="200.2" width="2.6" height="71.8" fill="#f23645"/>
<line x1="632.3" y1="245.7" x2="632.3" y2="281.6" stroke="#f23645" stroke-width="0.85" opacity="0.68"/>
<rect x="631.0" y="271.5" width="2.6" height="1.6" fill="#f23645"/>
<line x1="635.5" y1="239.6" x2="635.5" y2="280.3" stroke="#089981" stroke-width="0.85" opacity="0.68"/>
<rect x="634.2" y="245.9" width="2.6" height="26.9" fill="#089981"/>
<line x1="638.6" y1="228.0" x2="638.6" y2="249.7" stroke="#089981" stroke-width="0.85" opacity="0.68"/>
<rect x="637.3" y="233.0" width="2.6" height="12.9" fill="#089981"/>
<line x1="641.8" y1="229.3" x2="641.8" y2="259.5" stroke="#f23645" stroke-width="0.85" opacity="0.68"/>
<rect x="640.5" y="233.0" width="2.6" height="11.6" fill="#f23645"/>
<line x1="644.9" y1="242.1" x2="644.9" y2="264.6" stroke="#f23645" stroke-width="0.85" opacity="0.68"/>
<rect x="643.6" y="244.4" width="2.6" height="15.4" fill="#f23645"/>
<line x1="648.0" y1="251.3" x2="648.0" y2="274.0" stroke="#f23645" stroke-width="0.85" opacity="0.68"/>
<rect x="646.7" y="260.2" width="2.6" height="9.5" fill="#f23645"/>
<line x1="651.2" y1="265.8" x2="651.2" y2="295.5" stroke="#f23645" stroke-width="0.85" opacity="0.68"/>
<rect x="649.9" y="269.6" width="2.6" height="12.4" fill="#f23645"/>
<line x1="654.3" y1="275.9" x2="654.3" y2="282.5" stroke="#089981" stroke-width="0.85" opacity="0.68"/>
<rect x="653.0" y="279.1" width="2.6" height="2.9" fill="#089981"/>
<line x1="657.4" y1="266.5" x2="657.4" y2="282.9" stroke="#089981" stroke-width="0.85" opacity="0.68"/>
<rect x="656.1" y="271.5" width="2.6" height="7.6" fill="#089981"/>
<line x1="660.6" y1="242.9" x2="660.6" y2="276.5" stroke="#089981" stroke-width="0.85" opacity="0.68"/>
<rect x="659.3" y="251.0" width="2.6" height="20.9" fill="#089981"/>
<line x1="663.7" y1="246.3" x2="663.7" y2="267.7" stroke="#f23645" stroke-width="0.85" opacity="0.68"/>
<rect x="662.4" y="251.0" width="2.6" height="15.9" fill="#f23645"/>
<line x1="666.8" y1="263.3" x2="666.8" y2="279.7" stroke="#f23645" stroke-width="0.85" opacity="0.68"/>
<rect x="665.5" y="267.1" width="2.6" height="6.1" fill="#f23645"/>
<line x1="670.0" y1="264.6" x2="670.0" y2="274.4" stroke="#089981" stroke-width="0.85" opacity="0.68"/>
<rect x="668.7" y="269.9" width="2.6" height="3.5" fill="#089981"/>
<line x1="673.1" y1="259.5" x2="673.1" y2="270.6" stroke="#089981" stroke-width="0.85" opacity="0.68"/>
<rect x="671.8" y="263.1" width="2.6" height="6.8" fill="#089981"/>
<line x1="676.3" y1="257.3" x2="676.3" y2="263.6" stroke="#089981" stroke-width="0.85" opacity="0.68"/>
<rect x="675.0" y="260.5" width="2.6" height="2.5" fill="#089981"/>
<line x1="679.4" y1="250.7" x2="679.4" y2="265.2" stroke="#089981" stroke-width="0.85" opacity="0.68"/>
<rect x="678.1" y="252.6" width="2.6" height="7.9" fill="#089981"/>
<line x1="682.5" y1="244.6" x2="682.5" y2="259.5" stroke="#f23645" stroke-width="0.85" opacity="0.68"/>
<rect x="681.2" y="252.6" width="2.6" height="5.4" fill="#f23645"/>
<line x1="685.7" y1="248.2" x2="685.7" y2="269.4" stroke="#f23645" stroke-width="0.85" opacity="0.68"/>
<rect x="684.4" y="258.0" width="2.6" height="5.5" fill="#f23645"/>
<line x1="688.8" y1="250.7" x2="688.8" y2="267.3" stroke="#089981" stroke-width="0.85" opacity="0.68"/>
<rect x="687.5" y="258.9" width="2.6" height="4.7" fill="#089981"/>
<line x1="691.9" y1="254.2" x2="691.9" y2="286.3" stroke="#f23645" stroke-width="0.85" opacity="0.68"/>
<rect x="690.6" y="258.9" width="2.6" height="20.6" fill="#f23645"/>
<line x1="695.1" y1="269.4" x2="695.1" y2="280.0" stroke="#089981" stroke-width="0.85" opacity="0.68"/>
<rect x="693.8" y="272.4" width="2.6" height="7.1" fill="#089981"/>
<line x1="698.2" y1="271.5" x2="698.2" y2="275.3" stroke="#f23645" stroke-width="0.85" opacity="0.68"/>
<rect x="696.9" y="272.4" width="2.6" height="1.6" fill="#f23645"/>
<line x1="701.3" y1="266.1" x2="701.3" y2="275.7" stroke="#089981" stroke-width="0.85" opacity="0.68"/>
<rect x="700.0" y="266.8" width="2.6" height="6.8" fill="#089981"/>
<line x1="704.5" y1="266.5" x2="704.5" y2="293.8" stroke="#f23645" stroke-width="0.85" opacity="0.68"/>
<rect x="703.2" y="266.8" width="2.6" height="23.0" fill="#f23645"/>
<path d="M704.4 279.5L713.5 301L760.8 223.5L773 229.5L886.2 79.2" fill="none" stroke="#2aa69a" stroke-width="1.15" stroke-linejoin="round"/>
<path d="M881.2 80.4L886.2 79.2L885.6 84.4" fill="none" stroke="#26a69a" stroke-width="1.1"/>
<rect x="8" y="412.5" width="961" height="70" fill="#f0ecfa"/>
<g stroke="#e9e5f4" stroke-width="1" shape-rendering="crispEdges">
<line x1="26.5" y1="413" x2="26.5" y2="482"/>
<line x1="120.5" y1="413" x2="120.5" y2="482"/>
<line x1="218.5" y1="413" x2="218.5" y2="482"/>
<line x1="312.5" y1="413" x2="312.5" y2="482"/>
<line x1="409.5" y1="413" x2="409.5" y2="482"/>
<line x1="506.5" y1="413" x2="506.5" y2="482"/>
<line x1="600.5" y1="413" x2="600.5" y2="482"/>
<line x1="697.5" y1="413" x2="697.5" y2="482"/>
<line x1="791.5" y1="413" x2="791.5" y2="482"/>
<line x1="889.5" y1="413" x2="889.5" y2="482"/>
<line x1="8" y1="435.5" x2="969" y2="435.5"/>
<line x1="8" y1="458.5" x2="969" y2="458.5"/>
</g>
<g stroke="#b6b8c1" stroke-width="0.9" stroke-dasharray="2.7 2.6">
<line x1="8" y1="412.5" x2="969" y2="412.5"/>
<line x1="8" y1="447" x2="969" y2="447" stroke-opacity="0.8"/>
<line x1="8" y1="482.5" x2="969" y2="482.5"/>
</g>
<path d="M7.5 415.0L10.8 406.2L13.8 418.8L17.0 428.0L20.0 427.0L23.2 435.0L26.2 435.5L29.5 452.5L32.5 455.0L35.8 458.0L38.8 462.0L42.5 467.5L45.5 480.5L48.2 478.8L51.2 472.0L54.5 470.5L57.5 465.0L60.8 460.0L63.8 460.5L67.0 455.5L70.0 461.2L73.8 457.5L77.0 450.0L80.0 444.5L83.2 442.0L86.2 435.5L89.5 412.0L93.0 412.0L95.8 414.5L102.0 413.8L105.0 420.8L123.8 415.0L127.0 420.0L130.0 425.0L133.2 431.2L136.2 440.0L139.5 444.5L142.5 441.2L145.8 435.5L148.8 426.2L152.0 418.0L155.0 431.2L158.2 424.5L161.2 427.5L164.5 435.5L167.5 442.0L170.8 443.2L173.8 437.5L177.0 440.0L180.0 434.5L183.2 432.0L186.2 432.5L189.5 443.8L192.5 450.0L195.8 457.5L198.8 449.5L202.0 452.5L205.0 451.2L208.2 449.5L211.2 452.0L214.5 452.5L217.5 456.2L220.8 449.5L223.8 451.2L227.0 462.5L230.0 476.2L233.2 467.0L236.2 459.5L239.5 457.5L242.5 458.0L245.8 453.8L248.8 444.5L250.0 444.5L255.0 444.5L258.8 442.5L262.0 442.5L265.0 441.8L268.0 450.0L271.2 450.8L274.5 443.0L277.5 450.0L280.8 456.2L283.8 460.0L287.0 457.0L290.0 458.8L293.8 468.8L296.2 466.2L299.5 461.2L302.5 457.0L305.5 457.0L308.8 465.5L312.0 463.0L315.0 453.8L318.0 451.2L321.2 450.5L324.5 448.0L328.0 436.8L331.2 440.5L334.2 443.8L337.5 431.2L340.5 420.5L343.8 412.5L347.0 419.5L349.5 418.0L353.0 408.8L356.2 416.2L359.2 414.5L362.5 412.5L365.5 404.5L368.8 402.0L372.0 400.5L375.0 399.5L378.0 411.2L381.2 418.8L384.2 425.0L387.5 425.5L390.5 422.0L393.8 422.0L397.0 428.0L400.0 428.2L403.0 433.8L406.2 442.5L409.2 455.5L412.5 462.5L415.5 470.0L418.8 476.2L422.0 473.8L425.0 467.5L428.0 455.0L431.2 448.8L434.2 442.0L437.5 435.5L441.2 440.0L444.2 427.5L447.0 418.8L450.0 427.0L453.8 427.5L457.0 423.0L460.0 418.8L463.0 415.0L466.2 422.5L469.2 419.5L472.5 425.5L475.5 423.0L478.8 428.8L481.8 434.5L485.0 437.5L488.0 443.2L491.2 444.5L494.5 435.8L497.5 438.0L500.0 440.5L503.0 443.0L506.2 452.5L509.5 445.5L512.5 450.5L515.5 448.8L518.8 464.5L522.0 462.5L525.0 457.0L528.2 447.0L531.8 437.5L534.5 440.0L537.5 447.5L541.2 433.8L544.5 427.0L547.5 432.5L550.8 429.2L553.8 436.8L556.8 435.5L560.0 427.5L563.0 424.2L566.2 423.0L569.2 427.0L572.5 438.8L575.8 448.8L578.8 457.0L581.8 465.0L585.0 468.0L588.0 474.2L591.2 470.0L594.5 463.0L597.5 463.0L600.8 466.8L610.0 466.8L613.0 461.2L616.2 445.0L619.2 448.0L622.5 446.2L625.8 443.2L628.8 464.5L632.0 455.5L635.0 451.2L638.0 447.5L641.2 450.0L644.2 455.5L647.5 461.2L650.5 462.0L653.8 459.5L657.5 459.0L663.8 458.8L666.8 459.2L670.0 455.0L673.0 440.0L676.2 447.5L679.2 451.2L682.5 455.0L685.5 451.2L688.8 442.0L691.8 443.0L695.0 439.2L698.0 439.2L701.2 440.8L704.2 452.0" fill="none" stroke="#9575cd" stroke-width="1.1" stroke-linejoin="round"/>
<g font-family="Liberation Sans, Arial, sans-serif" fill="#131722" font-size="8.7" stroke="#131722" stroke-width="0.22">
<text x="7.3" y="14.3" textLength="279" lengthAdjust="spacingAndGlyphs">ChamiCrypto78 created with TradingView.com, Nov 03, 2025 13:47 UTC</text>
<text x="13" y="34" textLength="140" lengthAdjust="spacingAndGlyphs">ChainLink / TetherUS · 1D · Binance</text>
<text x="158.3" y="34" textLength="27.3" lengthAdjust="spacingAndGlyphs">O<tspan fill="#f23645" stroke="#f23645">17.59</tspan></text>
<text x="191.4" y="34" textLength="26.6" lengthAdjust="spacingAndGlyphs">H<tspan fill="#f23645" stroke="#f23645">17.66</tspan></text>
<text x="223.8" y="34" textLength="25.2" lengthAdjust="spacingAndGlyphs">L<tspan fill="#f23645" stroke="#f23645">15.80</tspan></text>
<text x="254.9" y="34" textLength="25.6" lengthAdjust="spacingAndGlyphs">C<tspan fill="#f23645" stroke="#f23645">16.11</tspan></text>
<text x="287" y="34" fill="#f23645" stroke="#f23645" textLength="56.7" lengthAdjust="spacingAndGlyphs">−1.47 (−8.36%)</text>
<text x="13" y="404" textLength="31.5" lengthAdjust="spacingAndGlyphs">MFI (14)</text>
<text x="50" y="404" fill="#8a63cc" stroke="#8a63cc" textLength="21" lengthAdjust="spacingAndGlyphs">45.79</text>
<text x="462.1" y="311.7" font-size="9.4" textLength="85.8" lengthAdjust="spacingAndGlyphs">Accumulation zone</text>
<text x="725.8" y="316.4" font-size="9.4" textLength="38" lengthAdjust="spacingAndGlyphs">Rebound</text>
<text x="976" y="52.2" textLength="21" lengthAdjust="spacingAndGlyphs">32.00</text>
<text x="976" y="112.8" textLength="21" lengthAdjust="spacingAndGlyphs">28.00</text>
<text x="976" y="143.1" textLength="21" lengthAdjust="spacingAndGlyphs">26.00</text>
<text x="976" y="203.7" textLength="21" lengthAdjust="spacingAndGlyphs">22.00</text>
<text x="976" y="264.3" textLength="21" lengthAdjust="spacingAndGlyphs">18.00</text>
<text x="976" y="324.9" textLength="21" lengthAdjust="spacingAndGlyphs">14.00</text>
<text x="976" y="355.2" textLength="21" lengthAdjust="spacingAndGlyphs">12.00</text>
<text x="976" y="385.5" textLength="21" lengthAdjust="spacingAndGlyphs">10.00</text>
<text x="976" y="415.3" textLength="21" lengthAdjust="spacingAndGlyphs">80.00</text>
<text x="976" y="438.8" textLength="21" lengthAdjust="spacingAndGlyphs">60.00</text>
<text x="976" y="461.8" textLength="21" lengthAdjust="spacingAndGlyphs">40.00</text>
<text x="976" y="485.3" textLength="21" lengthAdjust="spacingAndGlyphs">20.00</text>
<text x="26.8" y="504.3" text-anchor="middle">Apr</text>
<text x="120.9" y="504.3" text-anchor="middle">May</text>
<text x="218.1" y="504.3" text-anchor="middle">Jun</text>
<text x="312.2" y="504.3" text-anchor="middle">Jul</text>
<text x="409.4" y="504.3" text-anchor="middle">Aug</text>
<text x="506.6" y="504.3" text-anchor="middle">Sep</text>
<text x="600.7" y="504.3" text-anchor="middle">Oct</text>
<text x="697.9" y="504.3" text-anchor="middle">Nov</text>
<text x="792.0" y="504.3" text-anchor="middle">Dec</text>
<text x="889.2" y="504.3" font-weight="bold" text-anchor="middle">2026</text>
</g>
<rect x="971.5" y="22.8" width="41.8" height="18.4" rx="3.5" fill="#fff" stroke="#f0eef2"/>
<text x="978.7" y="35" font-size="8.6" font-family="Liberation Sans, Arial, sans-serif" fill="#131722" stroke="#131722" stroke-width="0.25" textLength="19.6" lengthAdjust="spacingAndGlyphs">USDT</text>
<rect x="969" y="73.0" width="31.9" height="13" rx="0.8" fill="#0c0c0f"/>
<text x="976" y="82.6" font-size="8.6" font-weight="bold" font-family="Liberation Sans, Arial, sans-serif" fill="#fff" textLength="21" lengthAdjust="spacingAndGlyphs">30.00</text>
<rect x="969" y="166.9" width="31.9" height="13" rx="0.8" fill="#0c0c0f"/>
<text x="976" y="176.5" font-size="8.6" font-weight="bold" font-family="Liberation Sans, Arial, sans-serif" fill="#fff" textLength="21" lengthAdjust="spacingAndGlyphs">23.80</text>
<rect x="969" y="224.5" width="31.9" height="13" rx="0.8" fill="#0c0c0f"/>
<text x="976" y="234.1" font-size="8.6" font-weight="bold" font-family="Liberation Sans, Arial, sans-serif" fill="#fff" textLength="21" lengthAdjust="spacingAndGlyphs">20.00</text>
<rect x="969" y="305.8" width="31.9" height="13" rx="0.8" fill="#0c0c0f"/>
<text x="976" y="315.4" font-size="8.6" font-weight="bold" font-family="Liberation Sans, Arial, sans-serif" fill="#fff" textLength="21" lengthAdjust="spacingAndGlyphs">15.42</text>
<rect x="969" y="334.4" width="31.9" height="13" rx="0.8" fill="#0c0c0f"/>
<text x="976" y="344.0" font-size="8.6" font-weight="bold" font-family="Liberation Sans, Arial, sans-serif" fill="#fff" textLength="21" lengthAdjust="spacingAndGlyphs">12.73</text>
<rect x="969" y="283" width="44" height="23" rx="1.5" fill="#f23645"/>
<text x="976" y="292.6" font-size="8.6" font-weight="bold" font-family="Liberation Sans, Arial, sans-serif" fill="#fff" textLength="20.3" lengthAdjust="spacingAndGlyphs">16.11</text>
<text x="976" y="303" font-size="8.6" font-family="Liberation Sans, Arial, sans-serif" fill="#fff" fill-opacity="0.85" textLength="33.2" lengthAdjust="spacingAndGlyphs">10:12:47</text>
<rect x="969" y="446.3" width="31.5" height="12.6" rx="1.5" fill="#7e57c2"/>
<text x="976" y="455.8" font-size="8.6" font-family="Liberation Sans, Arial, sans-serif" fill="#fff" textLength="21" lengthAdjust="spacingAndGlyphs">45.79</text>
<defs><filter id="sh" x="-10%" y="-30%" width="120%" height="170%"><feDropShadow dx="0" dy="0.8" stdDeviation="1.3" flood-color="#50536a" flood-opacity="0.28"/></filter></defs>
<rect x="704.3" y="54.2" width="93.6" height="17.8" rx="3" fill="#fff" filter="url(#sh)"/>
<text x="711" y="65.4" font-size="8.6" font-family="Liberation Sans, Arial, sans-serif" fill="#131722" stroke="#131722" stroke-width="0.22" textLength="80.6" lengthAdjust="spacingAndGlyphs">13.89 (86.22%) 1,389</text>
<g fill="#101116">
<path d="M8.5 527.2h8.9v10.9h-4.3v-6.7H8.5z"/>
<circle cx="20.9" cy="529.4" r="2.05"/>
<path d="M24.9 527.2h5.1l-3.8 10.9h-5.1z"/>
</g>
<text x="35.6" y="538.1" font-size="14.2" font-weight="bold" font-family="Liberation Sans, Arial, sans-serif" fill="#101116" textLength="87.8" lengthAdjust="spacingAndGlyphs">TradingView</text>
</svg>
</body></html>
